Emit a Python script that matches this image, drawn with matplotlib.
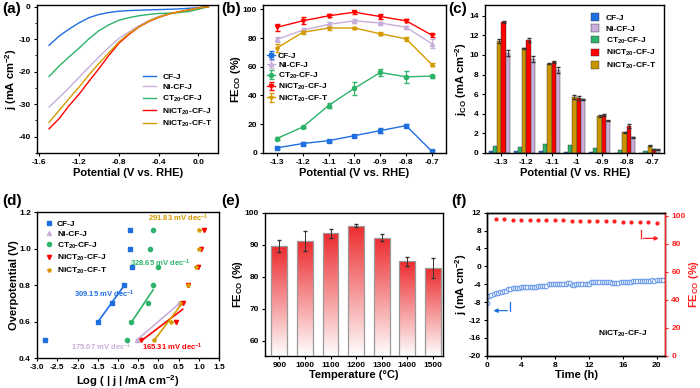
import numpy as np
import matplotlib
matplotlib.use('Agg')
import matplotlib.pyplot as plt
from matplotlib.colors import LinearSegmentedColormap

plt.rcParams['font.family'] = ['Liberation Sans', 'DejaVu Sans']
plt.rcParams['font.weight'] = 'bold'
plt.rcParams['axes.labelweight'] = 'bold'
plt.rcParams['axes.unicode_minus'] = False
plt.rcParams['mathtext.fontset'] = 'custom'
plt.rcParams['mathtext.rm'] = 'Liberation Sans:bold'
plt.rcParams['mathtext.bf'] = 'Liberation Sans:bold'
plt.rcParams['mathtext.default'] = 'rm'
plt.rcParams['axes.linewidth'] = 1.0
plt.rcParams['xtick.labelsize'] = 6
plt.rcParams['ytick.labelsize'] = 6
plt.rcParams['xtick.major.size'] = 2.5
plt.rcParams['ytick.major.size'] = 2.5
plt.rcParams['xtick.minor.size'] = 1.5
plt.rcParams['ytick.minor.size'] = 1.5
plt.rcParams['xtick.major.pad'] = 2
plt.rcParams['ytick.major.pad'] = 2

names = ['CF-J', 'Ni-CF-J', 'CT$_{20}$-CF-J', 'NiCT$_{20}$-CF-J', 'NiCT$_{20}$-CF-T']
colors = ['#1F6FE0', '#C8AEDB', '#2DB36A', '#FF0000', '#D49A00']
markers = ['s', '^', 'o', 'v', '*']

# (a) LSV curves
v_lsv = [-1.5, -1.4, -1.3, -1.2, -1.1, -1.0, -0.9, -0.8, -0.7, -0.6, -0.5, -0.4, -0.3, -0.2, -0.1, 0.0, 0.1]
j_cf = [-11.9, -9.1, -6.9, -5.0, -3.4, -2.4, -1.8, -1.4, -1.2, -1.1, -1.0, -0.9, -0.8, -0.7, -0.5, -0.3, 0.0]
j_ni = [-30.9, -28.0, -25.0, -21.8, -18.6, -15.5, -12.5, -9.8, -7.8, -5.9, -4.3, -3.0, -2.2, -1.6, -1.0, -0.4, 0.0]
j_ct = [-21.5, -18.3, -15.5, -12.8, -9.9, -7.4, -5.6, -4.2, -3.4, -2.8, -2.4, -2.1, -2.0, -1.8, -1.5, -0.8, 0.0]
j_nict = [-37.6, -34.5, -30.5, -27.0, -23.0, -19.1, -15.0, -11.3, -8.6, -6.3, -4.6, -3.3, -2.3, -1.6, -1.0, -0.4, 0.0]
j_nict_t = [-35.6, -32.0, -28.3, -24.8, -21.0, -17.5, -14.2, -10.9, -8.3, -6.3, -4.5, -3.2, -2.3, -1.6, -1.0, -0.4, 0.0]

# (b) FE_CO vs potential
v_fe = [-1.3, -1.2, -1.1, -1.0, -0.9, -0.8, -0.7]
fe_cf = [3.5, 6.5, 8.5, 12.0, 15.5, 19.0, 1.0]
fe_ni = [79.0, 85.5, 89.5, 92.0, 90.5, 87.5, 76.0]
fe_ct = [10.0, 18.0, 33.0, 45.0, 56.0, 53.0, 53.5]
fe_nict = [87.5, 92.0, 95.5, 98.0, 95.0, 92.0, 82.0]
fe_nict_t = [73.0, 84.0, 87.0, 87.0, 83.0, 79.5, 61.5]
err_cf = [0.8, 0.8, 0.8, 0.8, 1.5, 0.8, 0.8]
err_ni = [2.0, 1.5, 1.5, 1.0, 1.0, 1.0, 3.0]
err_ct = [1.0, 1.0, 2.0, 4.5, 2.5, 4.0, 1.0]
err_nict = [2.5, 2.5, 1.0, 1.0, 1.5, 1.0, 1.0]
err_nict_t = [3.0, 1.5, 1.5, 1.0, 1.0, 1.5, 1.0]

# (c) partial current density j_CO
v_labels = ['-1.3', '-1.2', '-1.1', '-1', '-0.9', '-0.8', '-0.7']
jco_cf = [0.15, 0.15, 0.2, 0.1, 0.05, 0.03, 0.02]
jco_ni = [10.2, 9.6, 8.5, 5.5, 3.3, 1.6, 0.3]
jco_ct = [0.7, 0.6, 0.9, 0.8, 0.5, 0.25, 0.15]
jco_nict = [13.4, 11.5, 9.25, 5.6, 3.85, 2.75, 0.35]
jco_nict_t = [11.4, 10.7, 9.1, 5.7, 3.8, 2.1, 0.75]
jerr_ni = [0.3, 0.3, 0.3, 0.05, 0.05, 0.05, 0.05]
jerr_nict = [0.1, 0.2, 0.1, 0.2, 0.1, 0.2, 0.05]
jerr_nict_t = [0.2, 0.05, 0.05, 0.2, 0.1, 0.05, 0.05]

# (d) Tafel plots
eta = [0.5, 0.6, 0.7, 0.8, 0.9, 1.0, 1.1]
logj_cf = [-2.81, -1.50, -1.15, -0.85, -0.66, -0.71, -0.71]
logj_ct = [-0.78, -0.68, -0.26, -0.13, -0.01, -0.20, -0.13]
logj_nict = [-0.43, 0.43, 0.60, 0.74, 0.99, 1.06, 1.13]
logj_nict_t = [-0.12, 0.31, 0.54, 0.72, 0.93, 1.00, 1.01]
eta_ni = [0.5, 0.7]
logj_ni = [-0.53, 0.52]
tafel_text = ['309.15', '175.07', '328.65', '165.31', '291.83']

# (e) FE_CO vs temperature
temps = ['900', '1000', '1100', '1200', '1300', '1400', '1500']
fe_temp = [89.6, 91.2, 93.5, 95.9, 92.2, 84.8, 82.7]
fe_temp_err = [2.0, 3.2, 1.5, 0.5, 1.1, 1.5, 3.0]

# (f) stability test
t_j = [0, 0.25, 0.5, 0.75, 1, 1.25, 1.5, 1.75, 2, 2.25, 2.5, 2.75, 3, 3.25, 3.5, 3.75, 4, 4.25,
       4.5, 4.75, 5, 5.25, 5.5, 5.75, 6, 6.25, 6.5, 6.75, 7, 7.25, 7.5, 7.75, 8, 8.25, 8.5, 8.75,
       9, 9.25, 9.5, 9.75, 10, 10.25, 10.5, 10.75, 11, 11.25, 11.5, 11.75, 12, 12.25, 12.5, 12.75,
       13, 13.25, 13.5, 13.75, 14, 14.25, 14.5, 14.75, 15, 15.25, 15.5, 15.75, 16, 16.25, 16.5,
       16.75, 17, 17.25, 17.5, 17.75, 18, 18.25, 18.5, 18.75, 19, 19.25, 19.5, 19.75, 20, 20.25,
       20.5, 20.75]
j_t = [-8.3, -6.6, -6.3, -6.1, -6.0, -5.9, -5.8, -5.7, -5.6, -5.5, -5.1, -5.0, -4.9, -4.85,
       -4.8, -4.75, -4.7, -4.65, -4.6, -4.6, -4.7, -4.65, -4.6, -4.55, -4.5, -4.5, -4.45, -4.4,
       -4.4, -4.0, -4.0, -4.0, -3.95, -3.95, -3.9, -3.9, -3.85, -3.85, -3.8, -3.8, -4.1, -4.1,
       -4.05, -4.0, -4.0, -3.95, -3.95, -3.9, -3.9, -3.6, -3.6, -3.6, -3.6, -3.55, -3.55, -3.55,
       -3.5, -3.5, -3.5, -3.7, -3.7, -3.65, -3.65, -3.6, -3.6, -3.55, -3.5, -3.5, -3.5, -3.2,
       -3.2, -3.2, -3.2, -3.2, -3.2, -3.2, -3.2, -3.2, -3.15, -3.3, -3.1, -3.1, -3.05, -3.0]
t_fe = [1, 2, 3, 4, 5, 6, 7, 8, 9, 10, 11, 12, 13, 14, 15, 16, 17, 18, 19, 20]
fe_t = [97.6, 97.5, 97.4, 97.3, 97.2, 97.1, 97.0, 96.9, 96.8, 96.7, 96.6, 96.5, 96.4, 96.3,
        96.2, 96.0, 95.9, 95.7, 95.5, 95.3]

fig = plt.figure(figsize=(7, 3.88), dpi=100)
lab_fs = 8
leg_fs = 6


def style(ax):
    ax.tick_params(direction='out', top=False, right=False, width=0.8)
    for t in ax.get_xticklabels() + ax.get_yticklabels():
        t.set_fontweight('bold')


# ---- (a)
ax = fig.add_axes([0.053, 0.606, 0.259, 0.381])
for y, c, n in zip([j_cf, j_ni, j_ct, j_nict, j_nict_t], colors, names):
    ax.plot(v_lsv, y, color=c, lw=1.0, label=n)
ax.set_xlim(-1.62, 0.2)
ax.set_ylim(-45, 0.5)
ax.set_xticks([-1.6, -1.2, -0.8, -0.4, 0.0])
ax.set_xticklabels(['-1.6', '-1.2', '-0.8', '-0.4', '0.0'])
ax.set_yticks([0, -10, -20, -30, -40])
ax.set_yticks(np.arange(-45, 1, 5), minor=True)
ax.set_xlabel('Potential (V vs. RHE)', fontsize=lab_fs, labelpad=1)
ax.set_ylabel('j (mA cm$^{-2}$)', fontsize=lab_fs, labelpad=0)
ax.legend(loc='lower right', bbox_to_anchor=(1.0, 0.12), frameon=False, fontsize=leg_fs,
          handlelength=1.5, labelspacing=0.3, borderpad=0.2)
style(ax)

# ---- (b)
ax = fig.add_axes([0.376, 0.606, 0.261, 0.381])
for y, e, c, m, n in zip([fe_cf, fe_ni, fe_ct, fe_nict, fe_nict_t],
                         [err_cf, err_ni, err_ct, err_nict, err_nict_t], colors, markers, names):
    ax.errorbar(v_fe, y, yerr=e, color=c, marker=m, ms=3, lw=1.0, capsize=1.8, elinewidth=0.8, label=n)
ax.set_xlim(-1.353, -0.646)
ax.set_ylim(0, 103)
ax.set_xticks(v_fe)
ax.set_xticklabels(['%.1f' % v for v in v_fe])
ax.set_yticks(np.arange(0, 101, 20))
ax.set_xlabel('Potential (V vs. RHE)', fontsize=lab_fs, labelpad=1)
ax.set_ylabel('FE$_{CO}$ (%)', fontsize=lab_fs, labelpad=0)
ax.legend(loc='upper left', bbox_to_anchor=(-0.01, 0.72), frameon=False, fontsize=leg_fs,
          handlelength=0.9, labelspacing=0.15, borderpad=0.2, handletextpad=0.4)
style(ax)

# ---- (c)
ax = fig.add_axes([0.693, 0.606, 0.256, 0.381])
xc = np.arange(len(v_labels))
w = 0.17
bar_sets = [(jco_cf, None, 0), (jco_ct, None, 2), (jco_nict_t, jerr_nict_t, 4),
            (jco_nict, jerr_nict, 3), (jco_ni, jerr_ni, 1)]
for k, (vals, errs, ci) in enumerate(bar_sets):
    ax.bar(xc + (k - 3) * w, vals, width=w, align='edge', color=colors[ci] if ci != 4 else '#C99400',
           edgecolor='#333333', lw=0.3, zorder=2)
    if errs is not None:
        ax.errorbar(xc + (k - 2.5) * w, vals, yerr=errs, fmt='none', ecolor='#333333',
                    elinewidth=0.6, capsize=1.2, zorder=3)
handles = [plt.Rectangle((0, 0), 1, 1, facecolor=c if i != 4 else '#C99400', edgecolor='#333333', lw=0.3)
           for i, c in enumerate(colors)]
ax.legend(handles, names, loc='upper right', bbox_to_anchor=(1.0, 1.0), frameon=False,
          fontsize=leg_fs, handlelength=1.0, handleheight=1.0, labelspacing=0.3, borderpad=0.5)
ax.set_xlim(-0.65, 6.5)
ax.set_ylim(0, 15.1)
ax.set_xticks(xc)
ax.set_xticklabels(v_labels)
ax.set_yticks(np.arange(0, 15, 2))
ax.set_xlabel('Potential (V vs. RHE)', fontsize=lab_fs, labelpad=1)
ax.set_ylabel('j$_{CO}$ (mA cm$^{-2}$)', fontsize=lab_fs, labelpad=0)
style(ax)

# ---- (d)
ax = fig.add_axes([0.053, 0.077, 0.26, 0.376])
tafel_data = [(logj_cf, eta), (logj_ni, eta_ni), (logj_ct, eta), (logj_nict, eta), (logj_nict_t, eta)]
for (xs, ys), c, m, n in zip(tafel_data, colors, markers, names):
    ax.plot(xs, ys, ls='none', marker=m, color=c, ms=3, label=n)
# linear fits over the Tafel region
fit_idx = [[1, 2, 3], [0, 1], [1, 2, 3], [0, 1, 2], [0, 1, 2]]
for (xs, ys), idx, c in zip(tafel_data, fit_idx, colors):
    xf = np.array([xs[i] for i in idx])
    yf = np.array([ys[i] for i in idx])
    p = np.polyfit(xf, yf, 1)
    xx = np.array([xf.min(), xf.max()])
    ax.plot(xx, np.polyval(p, xx), color=c, lw=1.2)
txt_pos = [(-1.35, 0.75), (-1.4, 0.46), (0.05, 0.92), (0.35, 0.46), (0.5, 1.165)]
for (tx, ty), s, c in zip(txt_pos, tafel_text, colors):
    ax.text(tx, ty, s + ' mV dec$^{-1}$', color=c, fontsize=5.5, ha='center', va='center',
            fontweight='bold')
ax.set_xlim(-3.0, 1.5)
ax.set_ylim(0.4, 1.2)
ax.set_xticks(np.arange(-3.0, 1.51, 0.5))
ax.set_xticklabels(['%.1f' % v for v in np.arange(-3.0, 1.51, 0.5)])
ax.set_yticks([0.4, 0.6, 0.8, 1.0, 1.2])
ax.set_yticklabels(['0.4', '0.6', '0.8', '1.0', '1.2'])
ax.set_xlabel('Log ( | j | /mA cm$^{-2}$)', fontsize=lab_fs, labelpad=1)
ax.set_ylabel('Overpotential (V)', fontsize=lab_fs, labelpad=0)
ax.legend(loc='upper left', frameon=False, fontsize=leg_fs, handlelength=1.0,
          labelspacing=0.3, borderpad=0.4, handletextpad=0.5)
style(ax)

# ---- (e)
ax = fig.add_axes([0.379, 0.083, 0.254, 0.369])
xe = np.arange(len(temps))
y0 = 55.3
cmap = LinearSegmentedColormap.from_list('wr', ['#FFFFFF', '#EC2B2E'])
grad = np.linspace(0, 1, 256).reshape(-1, 1)
bars = ax.bar(xe, fe_temp, width=0.62, color='none', edgecolor='#9A9A9A', lw=0.9, zorder=3)
for b in bars:
    bx, bw, bh = b.get_x(), b.get_width(), b.get_height()
    im = ax.imshow(grad, extent=[bx, bx + bw, y0, bh], origin='lower', cmap=cmap,
                   aspect='auto', zorder=2, vmin=0, vmax=1)
    im.set_clip_path(b)
ax.errorbar(xe, fe_temp, yerr=fe_temp_err, fmt='none', ecolor='#333333', elinewidth=0.7,
            capsize=1.5, zorder=4)
ax.set_xlim(-0.55, 6.4)
ax.set_ylim(y0, 100)
ax.set_xticks(xe)
ax.set_xticklabels(temps)
ax.set_yticks([60, 70, 80, 90, 100])
ax.set_xlabel('Temperature (°C)', fontsize=lab_fs, labelpad=1)
ax.set_ylabel('FE$_{CO}$ (%)', fontsize=lab_fs, labelpad=0)
style(ax)

# ---- (f)
ax = fig.add_axes([0.696, 0.083, 0.254, 0.369])
ax.plot(t_j, j_t, ls='-', lw=0.6, color='#6E9DEB', marker='o', ms=3.2, mfc='white',
        mec='#6E9DEB', mew=0.8)
ax.set_xlim(0, 21)
ax.set_ylim(-20, 12)
ax.set_xticks([0, 4, 8, 12, 16, 20])
ax.set_yticks(np.arange(-20, 13, 4))
ax.set_xlabel('Time (h)', fontsize=lab_fs, labelpad=1)
ax.set_ylabel('j (mA cm$^{-2}$)', fontsize=lab_fs, labelpad=0)
ax.plot([2.66, 2.66], [-7.9, -9.9], color='#1F6FE0', lw=0.9)
ax.annotate('', xy=(0.4, -9.9), xytext=(2.70, -9.9),
            arrowprops=dict(arrowstyle='-|>', color='#1F6FE0', lw=0.9, mutation_scale=6))
ax.text(16, -15.1, 'NiCT$_{20}$-CF-J', fontsize=6, ha='center', va='center', fontweight='bold')
style(ax)
ax2 = ax.twinx()
ax2.plot(t_fe, fe_t, ls='none', marker='o', ms=2.0, color='#FF2020')
ax2.set_ylim(0, 102.4)
ax2.set_yticks(np.arange(0, 101, 20))
ax2.set_ylabel('FE$_{CO}$ (%)', fontsize=lab_fs, color='#FF2020', labelpad=1)
ax2.tick_params(axis='y', colors='#FF2020', direction='out', width=0.8)
ax2.spines['right'].set_color('#FF2020')
for t in ax2.get_yticklabels():
    t.set_fontweight('bold')
ax2.plot([18.2, 18.2], [90, 84], color='#FF2020', lw=0.9)
ax2.annotate('', xy=(20.6, 84), xytext=(18.15, 84),
             arrowprops=dict(arrowstyle='-|>', color='#FF2020', lw=0.9, mutation_scale=6))

# panel labels
for s, x, y in [('(a)', 0.003, 0.995), ('(b)', 0.316, 0.995), ('(c)', 0.641, 0.995),
                ('(d)', 0.003, 0.5), ('(e)', 0.316, 0.5), ('(f)', 0.645, 0.5)]:
    fig.text(x, y, s, fontsize=11, fontweight='bold', va='top', ha='left')

fig.savefig('out.png', dpi=100)
